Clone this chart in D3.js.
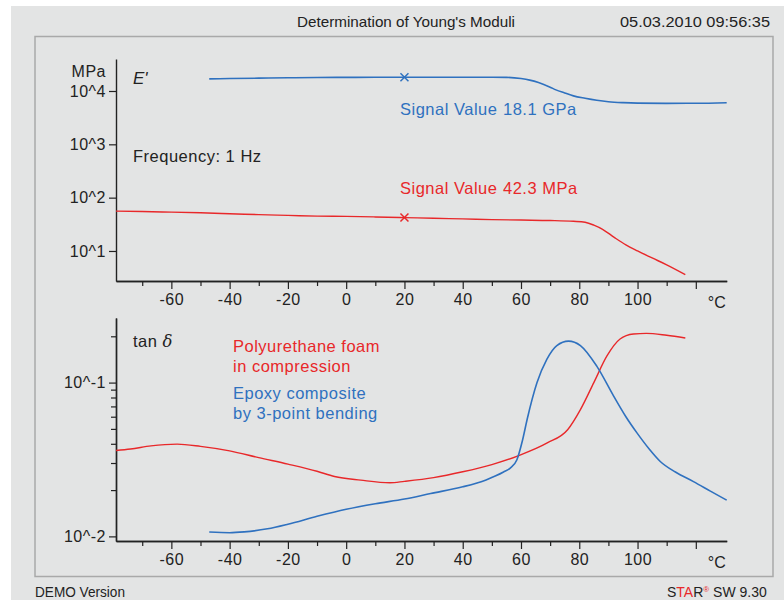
<!DOCTYPE html>
<html>
<head>
<meta charset="utf-8">
<script src="https://cdn.jsdelivr.net/npm/d3@7"></script>
<style>
  body { margin: 0; background: #fff; }
  svg text { font-family: "Liberation Sans", Arial, sans-serif; }
</style>
</head>
<body>
<div id="chart"></div>
<script>
// storage modulus E' (MPa)
var epoxyT = [-47, -40, -30, -20, -10, 0, 10, 20, 30, 40, 50, 55, 60, 63, 66, 70, 72, 75, 78, 82, 86, 90, 95, 100, 110, 120, 130.6];
var epoxyE = [16900, 17100, 17400, 17700, 17900, 18000, 18100, 18100, 18100, 18150, 18100, 18000, 17100, 16000, 14400, 11800, 10500, 9200, 8100, 7300, 6700, 6300, 6050, 5920, 5870, 5880, 6030];
var foamT = [-79, -70, -60, -50, -40, -30, -20, -10, 0, 10, 20, 30, 40, 50, 60, 70, 78, 82, 85, 88, 92, 96, 100, 105, 110, 116.4];
var foamE = [56, 55, 53.5, 52, 50, 48, 46.5, 45, 44.5, 43.5, 42.3, 41, 40, 38.8, 38, 37.3, 36, 34.5, 30.5, 25.5, 18, 13, 10, 7.4, 5.5, 3.6];

// loss factor tan delta
var foamTanT = [-79, -74, -67, -58, -50, -40, -30, -20, -10, -4, 5, 15, 20, 30, 40, 50, 59, 69, 76, 80.4, 85, 89.5, 94, 98.6, 103, 110, 116.4];
var foamTan = [0.0362, 0.0370, 0.0388, 0.0398, 0.0385, 0.0360, 0.0325, 0.0295, 0.0265, 0.0245, 0.0232, 0.0223, 0.0228, 0.0241, 0.0263, 0.0293, 0.0334, 0.0405, 0.0494, 0.0668, 0.100, 0.149, 0.192, 0.207, 0.209, 0.203, 0.195];
var epoxyTanT = [-47, -40, -35, -27, -20, -10, 0, 10, 20, 29, 40, 48, 54, 56.3, 58.6, 60.5, 62.1, 65.5, 68.9, 72.3, 76.3, 80.4, 86, 91.8, 96, 99.8, 104, 107.8, 113, 119.2, 125, 130.6];
var epoxyTan = [0.01067, 0.01057, 0.0107, 0.0112, 0.0120, 0.0135, 0.0150, 0.0163, 0.0175, 0.0190, 0.0210, 0.0233, 0.0262, 0.0278, 0.0315, 0.042, 0.0575, 0.100, 0.142, 0.174, 0.186, 0.174, 0.128, 0.0817, 0.060, 0.0471, 0.037, 0.0307, 0.0262, 0.0227, 0.0197, 0.0172];

var markerT = 20;
var epoxySignal = 18100;
var foamSignal = 42.3;

var xMajor = [-60, -40, -20, 0, 20, 40, 60, 80, 100, 120];
var xMinor = [-70, -50, -30, -10, 10, 30, 50, 70, 90, 110];
var eTicks = [10, 100, 1000, 10000];
var eLabels = ["10^1", "10^2", "10^3", "10^4"];
var tanTicks = [0.01, 0.1];
var tanLabels = ["10^-2", "10^-1"];
var tanMinor = [0.02, 0.03, 0.04, 0.05, 0.06, 0.07, 0.08, 0.09, 0.2];

var blue = "#2f71bf";
var red = "#e8282a";
var bg = "#e3e4e4";

var width = 784, height = 600;
var svg = d3.select("#chart").append("svg")
    .attr("width", width)
    .attr("height", height);

svg.append("rect").attr("x", 11).attr("y", 6).attr("width", width - 11).attr("height", height - 6).attr("fill", bg);
svg.append("rect").attr("x", 35).attr("y", 36.5).attr("width", 738).attr("height", 540)
    .attr("fill", bg).attr("stroke", "#a9a9a9").attr("stroke-width", 1.5);

svg.append("text").attr("x", 297).attr("y", 27).attr("font-size", 15)
    .attr("textLength", 218).attr("lengthAdjust", "spacingAndGlyphs").attr("fill", "#222")
    .text("Determination of Young's Moduli");
svg.append("text").attr("x", 620).attr("y", 27).attr("font-size", 15)
    .attr("textLength", 150).attr("lengthAdjust", "spacingAndGlyphs").attr("fill", "#222")
    .text("05.03.2010 09:56:35");
svg.append("text").attr("x", 35).attr("y", 597).attr("font-size", 14)
    .attr("textLength", 90).attr("lengthAdjust", "spacingAndGlyphs").attr("fill", "#222")
    .text("DEMO Version");
var star = svg.append("text").attr("x", 667).attr("y", 597).attr("font-size", 14).attr("fill", "#222");
star.append("tspan").text("S");
star.append("tspan").attr("fill", red).text("TA");
star.append("tspan").text("R");
star.append("tspan").attr("fill", red).attr("font-size", 8).attr("dy", -5).text("®");
star.append("tspan").attr("dy", 5).text(" SW 9.30");

var x = d3.scaleLinear().domain([-79, 130.6]).range([116, 726.7]);
var yE = d3.scaleLog().domain([Math.pow(10, 0.437), Math.pow(10, 4.6)]).range([281, 59]);
var yTan = d3.scaleLog().domain([Math.pow(10, -2.03), Math.pow(10, -0.58)]).range([541, 318]);

function styleAxis(g) {
    g.select(".domain").attr("stroke", "#222").attr("stroke-width", 1.4);
    g.selectAll(".tick line").attr("stroke", "#222").attr("stroke-width", 1.2);
    g.selectAll(".tick text").attr("fill", "#222").attr("font-size", 16)
        .attr("letter-spacing", 0.5).style("font-family", "'Liberation Sans', Arial, sans-serif");
}

function xAxes(y0) {
    svg.append("g").attr("transform", "translate(0," + y0 + ")")
        .call(d3.axisBottom(x).tickValues(xMinor).tickSize(5).tickSizeOuter(0).tickFormat(""))
        .call(styleAxis);
    svg.append("g").attr("transform", "translate(0," + y0 + ")")
        .call(d3.axisBottom(x).tickValues(xMajor).tickSize(8).tickSizeOuter(0).tickPadding(5)
            .tickFormat(function (d) { return d == 120 ? "" : d; }))
        .call(styleAxis);
    svg.append("text").attr("x", x.range()[1] - 1).attr("y", y0 + 27)
        .attr("text-anchor", "end").attr("font-size", 16).attr("fill", "#222").text("°C");
}

// top panel: E'
xAxes(281);
svg.append("g").attr("transform", "translate(116,0)")
    .call(d3.axisLeft(yE).tickValues(eTicks).tickSize(7).tickSizeOuter(0).tickPadding(3)
        .tickFormat(function (d, i) { return eLabels[i]; }))
    .call(styleAxis);
svg.append("text").attr("x", 106).attr("y", 77).attr("text-anchor", "end")
    .attr("font-size", 16).attr("letter-spacing", 0.5).attr("fill", "#222").text("MPa");
svg.append("text").attr("x", 133).attr("y", 84).attr("font-size", 17)
    .attr("font-style", "italic").attr("fill", "#222").text("E'");
svg.append("text").attr("x", 133).attr("y", 162).attr("font-size", 16.5)
    .attr("letter-spacing", 0.5).attr("fill", "#222").text("Frequency: 1 Hz");

var lineE = d3.line()
    .x(function (d) { return x(d[0]); })
    .y(function (d) { return yE(d[1]); })
    .curve(d3.curveMonotoneX);
var lineTan = d3.line()
    .x(function (d) { return x(d[0]); })
    .y(function (d) { return yTan(d[1]); })
    .curve(d3.curveMonotoneX);

svg.append("path").attr("d", lineE(d3.zip(epoxyT, epoxyE)))
    .attr("fill", "none").attr("stroke", blue).attr("stroke-width", 1.6);
svg.append("path").attr("d", lineE(d3.zip(foamT, foamE)))
    .attr("fill", "none").attr("stroke", red).attr("stroke-width", 1.4);

function cross(cx, cy, color) {
    var s = 4;
    svg.append("path")
        .attr("d", "M" + (cx - s) + "," + (cy - s) + "L" + (cx + s) + "," + (cy + s) +
            "M" + (cx - s) + "," + (cy + s) + "L" + (cx + s) + "," + (cy - s))
        .attr("stroke", color).attr("stroke-width", 1.5);
}
cross(x(markerT), yE(epoxySignal), blue);
cross(x(markerT), yE(foamSignal), red);

function signal(y0, value, color) {
    svg.append("text").attr("x", 400).attr("y", y0).attr("font-size", 16.5)
        .attr("letter-spacing", 0.5).attr("fill", color).text("Signal Value");
    svg.append("text").attr("x", 503).attr("y", y0).attr("font-size", 16.5)
        .attr("letter-spacing", 0.5).attr("fill", color).text(value);
}
signal(115, (epoxySignal / 1000).toFixed(1) + " GPa", blue);
signal(194, foamSignal.toFixed(1) + " MPa", red);

// bottom panel: tan delta
xAxes(541);
svg.append("g").attr("transform", "translate(116,0)")
    .call(d3.axisLeft(yTan).tickValues(tanMinor).tickSize(5).tickSizeOuter(0).tickFormat(""))
    .call(styleAxis);
svg.append("g").attr("transform", "translate(116,0)")
    .call(d3.axisLeft(yTan).tickValues(tanTicks).tickSize(7).tickSizeOuter(0).tickPadding(3)
        .tickFormat(function (d, i) { return tanLabels[i]; }))
    .call(styleAxis);

var tl = svg.append("text").attr("x", 133).attr("y", 347).attr("font-size", 16.5)
    .attr("letter-spacing", 0.5).attr("fill", "#222");
tl.append("tspan").text("tan ");
tl.append("tspan").attr("font-style", "italic").style("font-family", "'DejaVu Serif', serif").text("δ");

var legend = [
    ["Polyurethane foam", 352, red],
    ["in compression", 372, red],
    ["Epoxy composite", 399, blue],
    ["by 3-point bending", 419, blue]
];
legend.forEach(function (l) {
    svg.append("text").attr("x", 233).attr("y", l[1]).attr("font-size", 16.5)
        .attr("letter-spacing", 0.5).attr("fill", l[2]).text(l[0]);
});

svg.append("path").attr("d", lineTan(d3.zip(foamTanT, foamTan)))
    .attr("fill", "none").attr("stroke", red).attr("stroke-width", 1.4);
svg.append("path").attr("d", lineTan(d3.zip(epoxyTanT, epoxyTan)))
    .attr("fill", "none").attr("stroke", blue).attr("stroke-width", 1.6);
</script>
</body>
</html>
